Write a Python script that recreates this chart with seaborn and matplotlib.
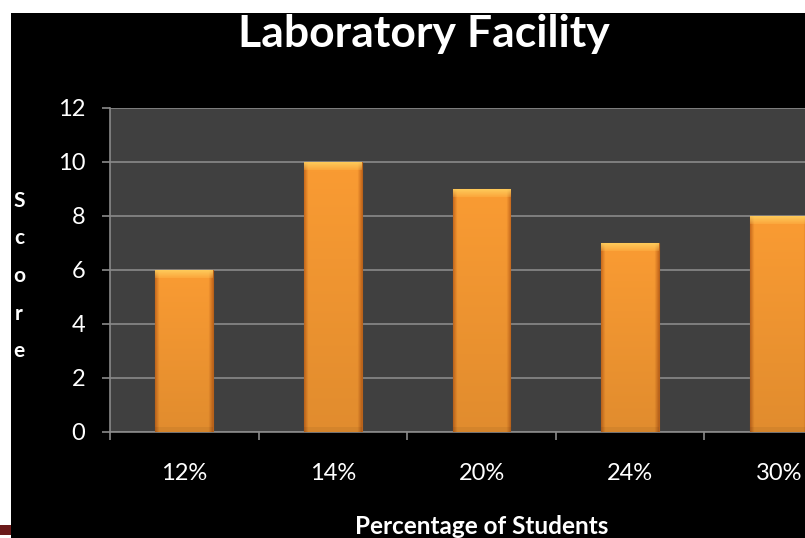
import numpy as np
import pandas as pd
import matplotlib
matplotlib.use("Agg")
import matplotlib.pyplot as plt
from matplotlib.patches import Rectangle
import seaborn as sns

# chart data
categories = ["12%", "14%", "20%", "24%", "30%"]
scores = [6, 10, 9, 7, 8]
y_ticks = [0, 2, 4, 6, 8, 10, 12]

df = pd.DataFrame({"group": categories, "score": scores})

sns.set_style("dark")
plt.rcParams["font.family"] = ["Lato", "DejaVu Sans"]

fig = plt.figure(figsize=(8.05, 5.38), dpi=100, facecolor="white")
# black slide background (white strip left and top like the screenshot)
fig.patches.append(Rectangle((11 / 805, 0), 1, (538 - 13) / 538, transform=fig.transFigure,
                             facecolor="black", edgecolor="none", zorder=-10))
fig.patches.append(Rectangle((0, 3 / 538), 11 / 805, 10 / 538, transform=fig.transFigure,
                             facecolor="#6B1A1A", edgecolor="none", zorder=-9))

ax = fig.add_axes([110 / 805, 106 / 538, 743 / 805, 324 / 538])
ax.set_facecolor("#404040")

sns.barplot(data=df, x="group", y="score", color="#F7962F", width=0.39,
            edgecolor="#B8621A", linewidth=0.8, saturation=1, ax=ax, zorder=3)

# shade each bar with a bevel-like gradient
px = 27.0  # pixels per unit on y
for p in ax.patches:
    x0, w, h = p.get_x(), p.get_width(), p.get_height()
    nx, ny = 60, max(int(h * px), 2)
    u = np.linspace(0, 1, nx)
    side = np.clip(np.minimum(u, 1 - u) / 0.07, 0, 1)
    img = np.zeros((ny, nx, 3))
    base = np.array([0.98, 0.61, 0.20])
    dark = np.array([0.80, 0.43, 0.12])
    col = dark + (base - dark) * side[:, None]
    light = np.array([1.0, 0.82, 0.38])
    for i in range(ny):
        row = col.copy()
        frac = i / ny
        if i < 8:
            # top bevel, fading downward
            row = row + (light - row) * (0.7 * (1 - i / 8) + 0.15)
        elif ny - i < 6:
            row = row * 0.85
        else:
            row = row * (1 - 0.10 * frac)
        img[i] = row
    im = ax.imshow(np.clip(img, 0, 1), extent=(x0, x0 + w, 0, h), aspect="auto",
                   zorder=4, interpolation="bilinear")
    im.set_clip_path(p)

ax.set_xlim(-0.5, 4.5)
ax.set_ylim(0, 12)
ax.set_yticks(y_ticks)
ax.set_xticks(range(len(categories)))
ax.set_xticklabels(categories)
ax.grid(axis="y", color="#8A8A8A", linewidth=1.2, zorder=1)
ax.grid(axis="x", visible=False)
ax.set_axisbelow(True)

for s in ["top", "right"]:
    ax.spines[s].set_visible(False)
for s in ["left", "bottom"]:
    ax.spines[s].set_visible(True)
    ax.spines[s].set_color("#8A8A8A")
    ax.spines[s].set_linewidth(1.2)

ax.tick_params(axis="y", colors="white", labelsize=17, length=5.8, width=1.2,
               color="#8A8A8A", left=True, pad=12)
ax.tick_params(axis="x", colors="white", labelsize=17, length=0, pad=22)
# category boundary ticks on the x axis
ax.set_xticks(np.arange(-0.5, 5, 1), minor=True)
ax.tick_params(axis="x", which="minor", length=6, width=1.2, color="#8A8A8A", bottom=True)

ax.set_xlabel("")
ax.set_ylabel("")

fig.text(424 / 805, 1 - 34 / 538, "Laboratory Facility", color="white", fontsize=32,
         fontweight="bold", ha="center", va="center")
fig.text(482 / 805, 1 - 527 / 538, "Percentage of Students", color="white", fontsize=17.5,
         fontweight="bold", ha="center", va="center")
fig.text(19 / 805, 1 - 276 / 538, "S\nc\no\nr\ne", color="white", fontsize=15,
         fontweight="bold", ha="center", va="center", linespacing=2.1)

fig.savefig("out.png", dpi=100, facecolor=fig.get_facecolor())
